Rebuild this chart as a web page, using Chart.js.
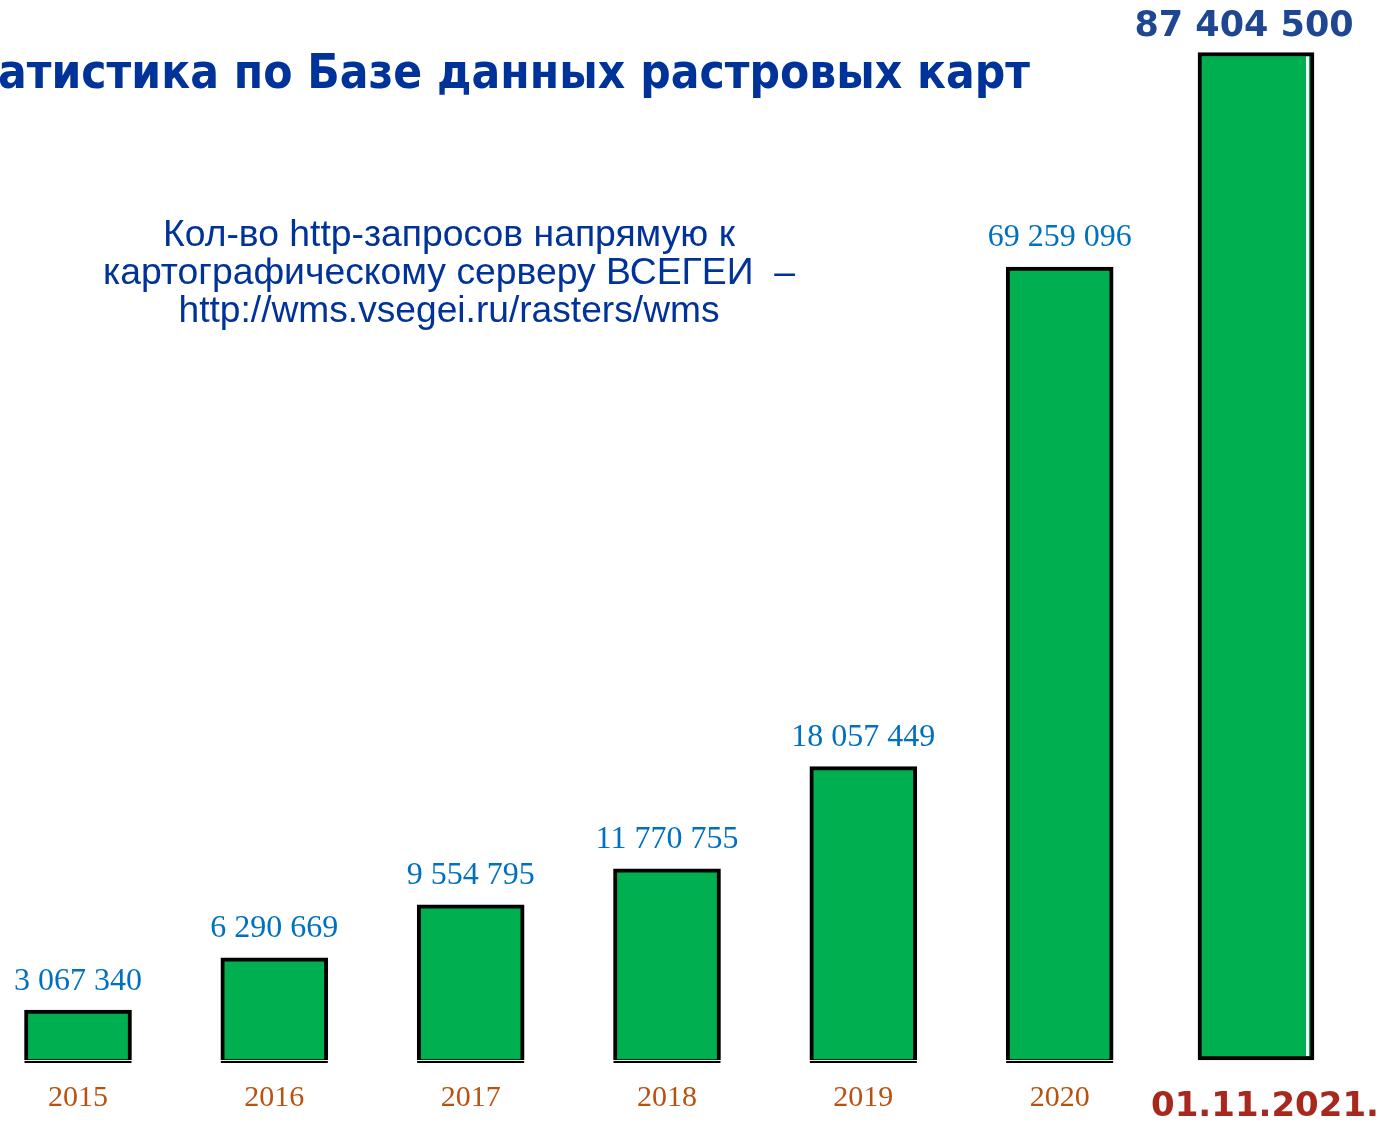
<!DOCTYPE html>
<html>
<head>
<meta charset="utf-8">
<script src="https://cdn.jsdelivr.net/npm/chart.js@4.4.1/dist/chart.umd.min.js"></script>
<style>
    body { margin: 0; background: #ffffff; }
    canvas { display: block; }
</style>
</head>
<body>
<canvas id="grafico" width="1378" height="1121"></canvas>
<script>
var YEARS = ['2015', '2016', '2017', '2018', '2019', '2020', '01.11.2021.'];
// numbers printed over the bars
var REQUESTS = [3067340, 6290669, 9554795, 11770755, 18057449, 69259096, 87404500];
// bar heights as drawn in the source slide (the last two are cut short there)
var DRAWN_HEIGHTS = [3067340, 6290669, 9554795, 11770755, 18057449, 48800000, 62000000];
var TITLE = 'атистика по Базе данных растровых карт';
var NOTE_LINES = [
    'Кол-во http-запросов напрямую к',
    'картографическому серверу ВСЕГЕИ  –',
    'http://wms.vsegei.ru/rasters/wms'
];

var LAST = YEARS.length - 1;

function formatNumber(n) {
    return String(n).replace(/\B(?=(\d{3})+(?!\d))/g, ' ');
}

function regularBars() {
    var arr = [];
    for (var i = 0; i < DRAWN_HEIGHTS.length; i++) {
        arr.push(i === LAST ? null : DRAWN_HEIGHTS[i]);
    }
    return arr;
}

function lastBar() {
    var arr = [];
    for (var i = 0; i < DRAWN_HEIGHTS.length; i++) {
        arr.push(i === LAST ? DRAWN_HEIGHTS[i] : null);
    }
    return arr;
}

// draws text squeezed/stretched to a given width
function fitText(ctx, text, cx, cy, width, align) {
    var w = ctx.measureText(text).width;
    ctx.save();
    ctx.translate(cx, cy);
    ctx.scale(width / w, 1);
    ctx.textAlign = align;
    ctx.fillText(text, 0, 0);
    ctx.restore();
}

var labelsPlugin = {
    id: 'labels',
    afterDatasetsDraw: function (chart) {
        var ctx = chart.ctx;
        var base = chart.scales.y.getPixelForValue(0);
        ctx.save();
        ctx.textBaseline = 'middle';
        for (var i = 0; i < YEARS.length; i++) {
            var meta = chart.getDatasetMeta(i === LAST ? 1 : 0);
            var bar = meta.data[i];
            var x = bar.x;
            var top = bar.y;
            var w = bar.width;
            if (i !== LAST) {
                ctx.fillStyle = '#000000';
                ctx.fillRect(x - w / 2, base + 1, w, 2);
                ctx.font = '32px "Liberation Serif", serif';
                ctx.fillStyle = '#0070C0';
                ctx.textAlign = 'center';
                ctx.fillText(formatNumber(REQUESTS[i]), x, top - 29);
                ctx.font = '30px "Liberation Serif", serif';
                ctx.fillStyle = '#B9520F';
                ctx.fillText(YEARS[i], x, base + 38);
            } else {
                ctx.fillStyle = '#ffffff';
                ctx.fillRect(x + w / 2 - 8, top + 4, 3, base - top - 8);
                ctx.font = 'bold 35px "DejaVu Sans", sans-serif';
                ctx.fillStyle = '#1F4690';
                ctx.textAlign = 'center';
                ctx.fillText(formatNumber(REQUESTS[i]), x - 12, top - 26);
                ctx.font = 'bold 34px "DejaVu Sans", sans-serif';
                ctx.fillStyle = '#A9281E';
                ctx.fillText(YEARS[i], x + 9, base + 47);
            }
        }
        ctx.restore();
    },
    afterDraw: function (chart) {
        var ctx = chart.ctx;
        ctx.save();
        ctx.textBaseline = 'alphabetic';
        ctx.fillStyle = '#003399';
        ctx.font = 'bold 48px "DejaVu Sans", sans-serif';
        fitText(ctx, TITLE, -2, 88, 1032, 'left');
        ctx.font = '36px "Liberation Sans", Arial, sans-serif';
        ctx.textBaseline = 'middle';
        var noteWidths = [572, 692, 541];
        for (var i = 0; i < NOTE_LINES.length; i++) {
            fitText(ctx, NOTE_LINES[i], 449, 236 + i * 38, noteWidths[i], 'center');
        }
        ctx.restore();
    }
};

var GRAFICO = new Chart(document.getElementById('grafico'), {
    type: 'bar',
    data: {
        labels: YEARS,
        datasets: [{
            data: regularBars(),
            backgroundColor: '#00B050',
            borderColor: '#000000',
            borderWidth: {top: 4, left: 4, right: 4, bottom: 1},
            borderSkipped: false,
            barThickness: 107,
            grouped: false,
            clip: false
        }, {
            data: lastBar(),
            backgroundColor: '#00B050',
            borderColor: '#000000',
            borderWidth: 4,
            borderSkipped: false,
            barThickness: 116,
            grouped: false,
            clip: false
        }]
    },
    options: {
        responsive: false,
        animation: false,
        layout: {
            padding: {left: 78, right: 122, top: 0, bottom: 61}
        },
        plugins: {
            legend: {display: false},
            tooltip: {enabled: false}
        },
        scales: {
            x: {
                type: 'category',
                offset: false,
                display: false
            },
            y: {
                min: 0,
                max: 65230000,
                display: false
            }
        }
    },
    plugins: [labelsPlugin]
});
</script>
</body>
</html>
